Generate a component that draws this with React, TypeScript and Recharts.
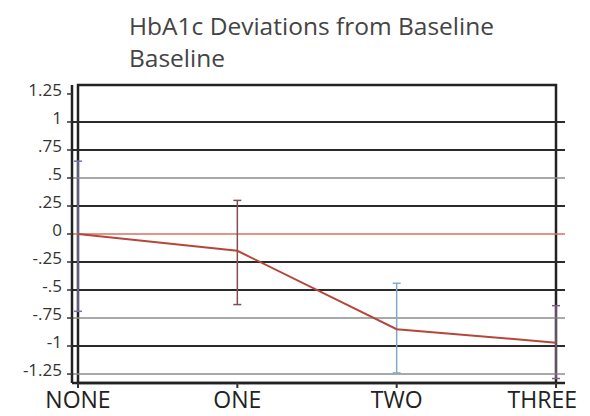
import { LineChart, Line, XAxis, YAxis, ErrorBar, ReferenceLine, ReferenceArea } from 'recharts';

const categories = ['NONE', 'ONE', 'TWO', 'THREE'];
const means = [0, -0.15, -0.85, -0.97];
const upper = [0.65, 0.3, -0.44, -0.64];
const lower = [-0.69, -0.63, -1.24, -1.29];
const yTicks = [1.25, 1, 0.75, 0.5, 0.25, 0, -0.25, -0.5, -0.75, -1, -1.25];
const yTickLabels = ['1.25', '1', '.75', '.5', '.25', '0', '-.25', '-.5', '-.75', '-1', '-1.25'];

const BAR_COLORS = ['#7472a6', '#7e4e52', '#86a9c9', '#7d5f86'];
const THIN_LINES = [0.5, -0.75, -1.25];
const FONT = '"Open Sans", sans-serif';

const data = categories.map((cat, i) => {
  const row: Record<string, any> = { cat, mean: means[i] };
  row[`b${i}`] = means[i];
  row[`err${i}`] = [means[i] - lower[i], upper[i] - means[i]];
  return row;
});

function gridStyle(v: number) {
  if (v === 0) return { stroke: '#d9705f', strokeWidth: 1.5 };
  if (THIN_LINES.includes(v)) return { stroke: '#8c8c8c', strokeWidth: 1.5 };
  return { stroke: '#2b2b2b', strokeWidth: 2 };
}

const YTick = (props: any) => {
  const { x, y, payload } = props;
  const idx = yTicks.indexOf(payload.value);
  return (
    <text x={x - 3} y={y + 2} textAnchor="end" fontFamily={FONT} fontSize={17} fill="#333">
      {yTickLabels[idx]}
    </text>
  );
};

const XTick = (props: any) => {
  const { x, y, payload, index } = props;
  const last = index === categories.length - 1;
  return (
    <text
      x={last ? x + 21 : x}
      y={y + 18}
      textAnchor={last ? 'end' : 'middle'}
      fontFamily={FONT}
      fontSize={23}
      fill="#222"
    >
      {payload.value}
    </text>
  );
};

export default function App() {
  return (
    <div style={{ position: 'absolute', left: 0, top: 0, width: 590, height: 416, background: '#fff', overflow: 'hidden' }}>
      <div style={{ position: 'absolute', left: 129, top: 10, fontFamily: FONT, fontSize: 24.5, lineHeight: '32px', color: '#444' }}>
        HbA1c Deviations from Baseline
        <br />
        Baseline
      </div>
      <LineChart width={590} height={416} data={data} margin={{ top: 85, right: 25, bottom: 3, left: 0 }}>
        <XAxis
          dataKey="cat"
          padding={{ left: 6, right: 9 }}
          axisLine={{ stroke: '#222', strokeWidth: 2.5 }}
          tickLine={{ stroke: '#333', strokeWidth: 2 }}
          tickSize={5}
          height={30}
          tick={<XTick />}
          interval={0}
        />
        <YAxis
          type="number"
          domain={[-1.33, 1.33]}
          ticks={yTicks}
          width={72}
          axisLine={{ stroke: '#222', strokeWidth: 2.5 }}
          tickLine={{ stroke: '#333', strokeWidth: 1.5 }}
          tickSize={5}
          tick={<YTick />}
          interval={0}
        />
        <ReferenceArea y1={-1.33} y2={1.33} fill="none" stroke="#222" strokeWidth={2.5} ifOverflow="visible" />
        {yTicks.filter((v) => v !== 1.25).map((v) => (
          <ReferenceLine key={v} y={v} {...gridStyle(v)} />
        ))}
        {categories.map((c, i) => (
          <Line
            key={c}
            dataKey={`b${i}`}
            stroke="none"
            dot={false}
            activeDot={false}
            legendType="none"
            isAnimationActive={false}
          >
            <ErrorBar dataKey={`err${i}`} width={4} stroke={BAR_COLORS[i]} strokeWidth={1.5} direction="y" />
          </Line>
        ))}
        <Line
          dataKey="mean"
          stroke="#b5473a"
          strokeWidth={2}
          dot={false}
          activeDot={false}
          type="linear"
          isAnimationActive={false}
        />
      </LineChart>
    </div>
  );
}
